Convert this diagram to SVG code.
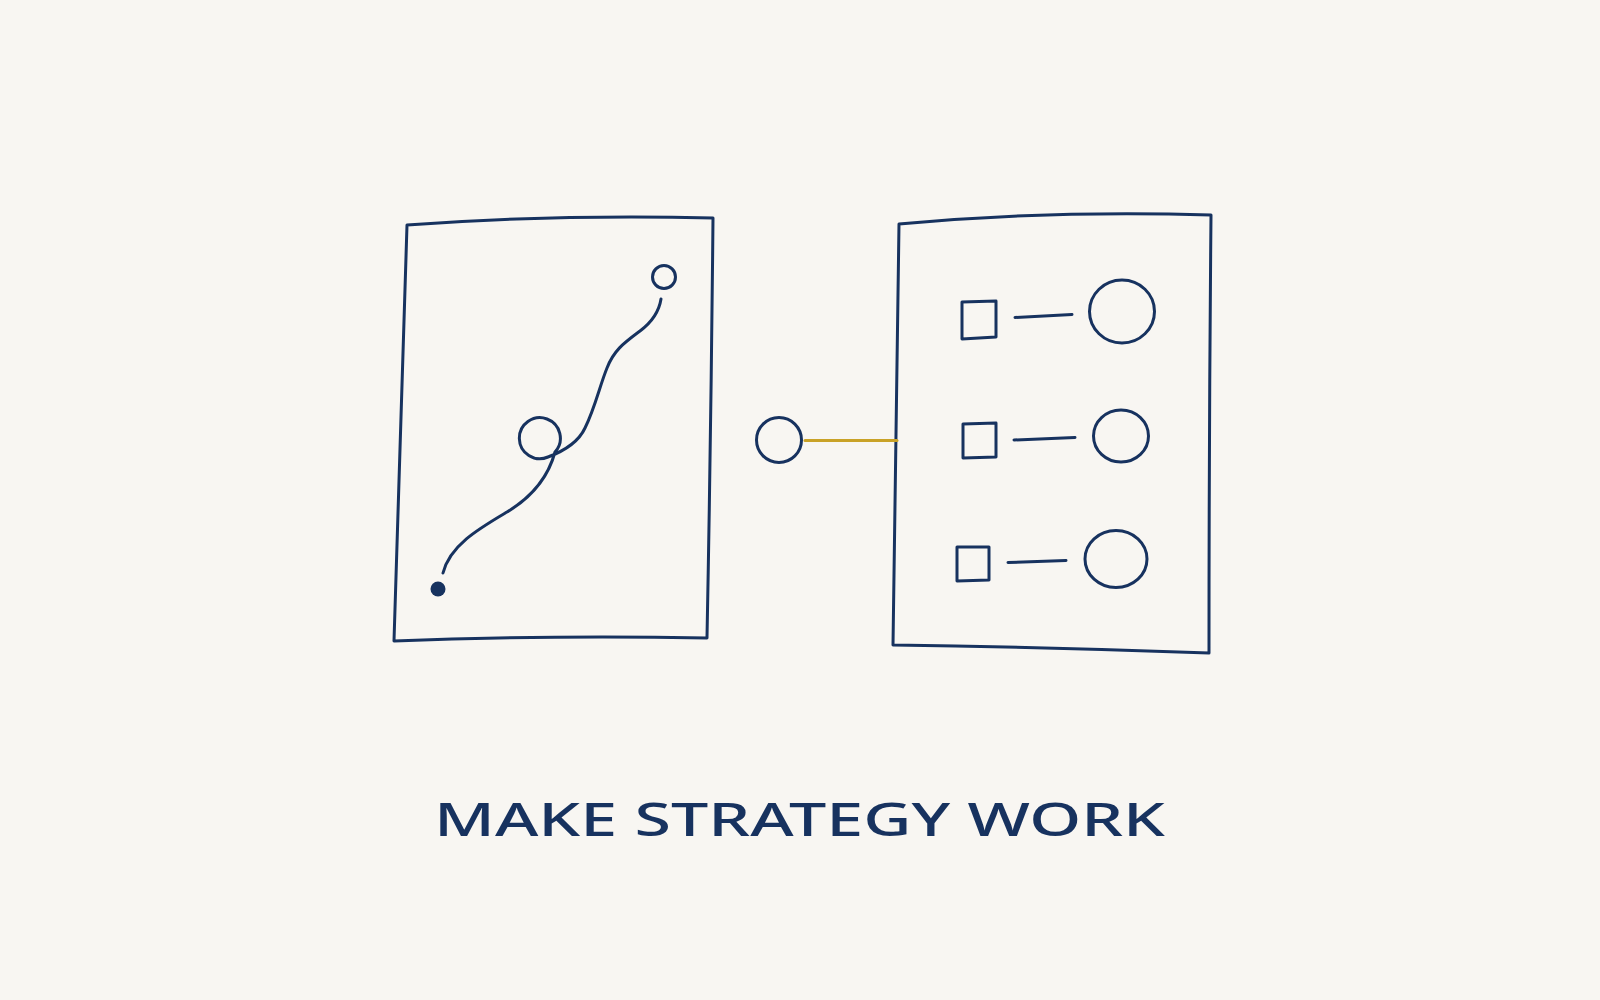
<svg xmlns="http://www.w3.org/2000/svg" width="1600" height="1000" viewBox="0 0 1600 1000">
  <style>
    .ink { fill: none; stroke: #17325F; stroke-width: 3; stroke-linecap: round; stroke-linejoin: round; }
    .gold { fill: none; stroke: #C9A227; stroke-width: 3; stroke-linecap: round; }
    .title { font-family: "Noto Sans", "Liberation Sans", sans-serif; font-weight: 500; font-size: 46px; fill: #17325F; }
  </style>
  <rect x="0" y="0" width="1600" height="1000" fill="#F8F6F2"/>

  <g id="strategy-panel">
    <path class="ink" d="M 407 225 Q 560 214 713 218 Q 711 430 707 638 Q 550 635 394 641 Q 400 430 407 225 Z"/>
    <circle class="ink" cx="664" cy="277" r="11.5"/>
    <path class="ink" d="M 443 573 C 450 545, 480 528, 507 512 C 532 497, 548 478, 555 452 A 20.5 20.5 0 1 0 548 457 C 564 451, 578 443, 585 428 C 595 408, 600 385, 607 368 C 614 350, 624 343, 640 331 C 652 322, 659 312, 661 299"/>
    <circle cx="438" cy="589" r="7.5" fill="#17325F"/>
  </g>

  <g id="hub">
    <circle class="ink" cx="779" cy="440" r="22.5"/>
  </g>

  <g id="execution-panel">
    <path class="ink" d="M 899 224 Q 1050 210 1211 215 Q 1209 430 1209 653 Q 1050 647 893 645 Q 896 430 899 224 Z"/>
  </g>

  <g id="item-1">
    <path class="ink" d="M 962 302 L 996 301 L 996 337 L 962 339 Z"/>
    <ellipse class="ink" cx="1122" cy="311.5" rx="32.5" ry="31.5"/>
  </g>
  <g id="item-2">
    <path class="ink" d="M 963 424 L 996 423 L 996 457 L 963 458 Z"/>
    <ellipse class="ink" cx="1121" cy="436" rx="27.5" ry="26"/>
  </g>
  <g id="item-3">
    <path class="ink" d="M 957 547 L 989 547 L 989 580 L 957 581 Z"/>
    <ellipse class="ink" cx="1116" cy="559" rx="31" ry="28.5"/>
  </g>

  <g id="connectors">
    <path class="gold" d="M 805 440.5 L 897 440.5"/>
    <path class="ink" d="M 1015 317.5 L 1072 314.5"/>
    <path class="ink" d="M 1014 440 L 1075 437.5"/>
    <path class="ink" d="M 1008 562.5 L 1066 560.5"/>
  </g>

  <text class="title" x="799.5" y="836" text-anchor="middle" textLength="731" lengthAdjust="spacingAndGlyphs">MAKE STRATEGY WORK</text>
</svg>
